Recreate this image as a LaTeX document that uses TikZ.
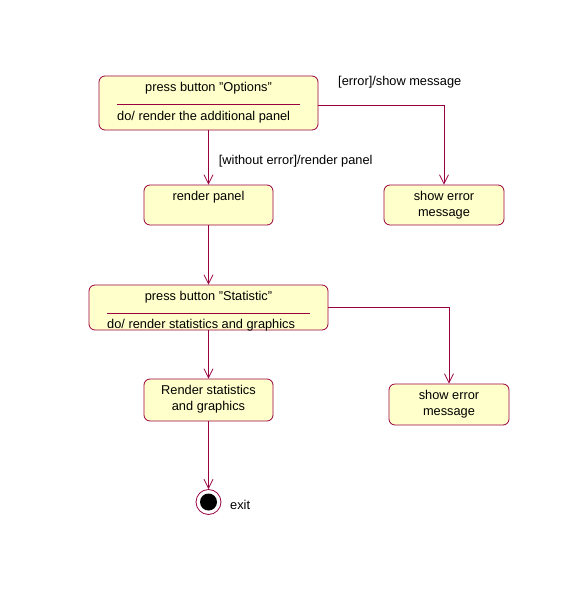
\documentclass[tikz,border=0pt]{standalone}
\usepackage{fontspec}
\setmainfont{Liberation Sans}
\usetikzlibrary{arrows.meta}
\definecolor{umlline}{HTML}{99003F}
\definecolor{umlfill}{HTML}{FFFFCC}
\begin{document}
\begin{tikzpicture}[x=1pt,y=-1pt,
  statebox/.style={draw=umlline,fill=umlfill,rounded corners=6pt,line width=0.8pt,inner sep=0pt},
  txt/.style={font=\fontsize{12.8}{15}\selectfont,inner sep=0pt,anchor=base},
  flow/.style={draw=umlline,line width=0.8pt,-{Straight Barb[length=9pt,width=9pt]}}]
\useasboundingbox (0,0) rectangle (579,595);
% boxes
\node[statebox,minimum width=219pt,minimum height=54pt] (opt) at (208.5,103) {};
\node[statebox,minimum width=129pt,minimum height=40pt] (rp) at (208.5,205) {};
\node[statebox,minimum width=120pt,minimum height=40pt] (err1) at (444,205) {};
\node[statebox,minimum width=239pt,minimum height=45pt] (stat) at (208.5,307.5) {};
\node[statebox,minimum width=129pt,minimum height=42pt] (rs) at (208.5,400) {};
\node[statebox,minimum width=120pt,minimum height=41pt] (err2) at (449,404.5) {};
% exit
\node[circle,draw=umlline,line width=0.8pt,fill=white,minimum size=25pt,inner sep=0pt] (exit) at (208.5,502) {};
\node[circle,fill=black,minimum size=17pt,inner sep=0pt] (exitdot) at (exit.center) {};
% dividers
\draw[umlline,line width=0.8pt] (117,104) -- (300,104);
\draw[umlline,line width=0.8pt] (107,313) -- (310,313);
% texts
\node[txt] (t1) at (208.5,91) {press button \char34Options\char34};
\node[txt,anchor=base west] (t2) at (117,120) {do/ render the additional panel};
\node[txt] (t3) at (208.5,200) {render panel};
\node[txt] (t4) at (444,200) {show error};
\node[txt] (t5) at (444,216) {message};
\node[txt] (t6) at (208.5,300) {press button \char34Statistic\char34};
\node[txt,anchor=base west] (t7) at (107,328) {do/ render statistics and graphics};
\node[txt] (t8) at (208.5,394) {Render statistics};
\node[txt] (t9) at (208.5,410) {and graphics};
\node[txt] (t10) at (449,399) {show error};
\node[txt] (t11) at (449,415) {message};
\node[txt,anchor=base west] (t12) at (230,509) {exit};
% connectors
\draw[flow] (opt.south) -- node[txt,anchor=base west,pos=0.5,xshift=10pt,yshift=-7pt] (l1) {[without error]/render panel} (rp.north);
\draw[flow] (opt.east |- 0,105) -| (err1.north);
\node[txt,anchor=base west] (l2) at (338,85) {[error]/show message};
\draw[flow] (rp.south) -- (stat.north);
\draw[flow] (stat.east |- 0,307) -| (err2.north);
\draw[flow] (stat.south) -- (rs.north);
\draw[flow] (rs.south) -- (exit.north);
\end{tikzpicture}
\end{document}
